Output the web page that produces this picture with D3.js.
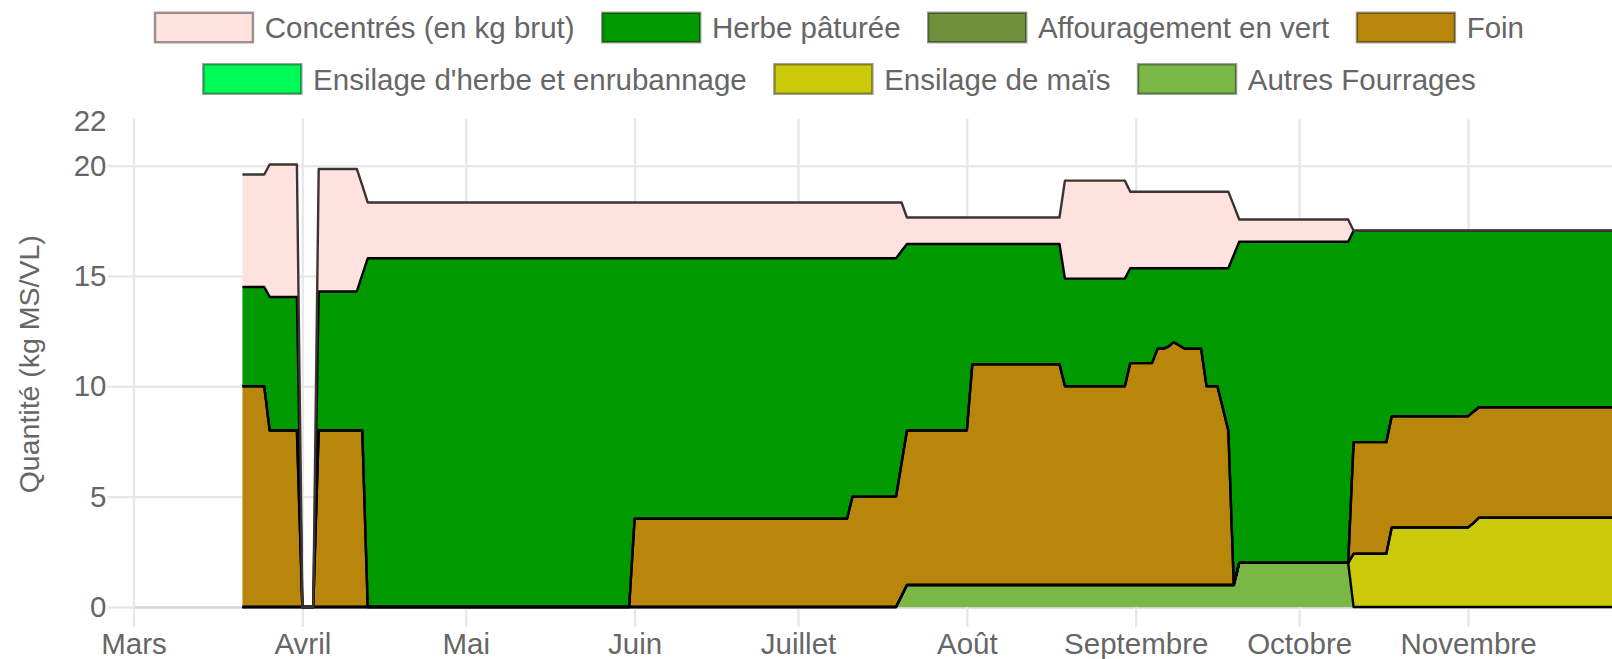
<!DOCTYPE html>
<html>
<head>
<meta charset="utf-8">
<script src="https://cdn.jsdelivr.net/npm/d3@7/dist/d3.min.js"></script>
<style>
    body { margin: 0; background: #fff; }
    svg { display: block; font-family: 'Liberation Sans', Arial, sans-serif; }
</style>
</head>
<body>
<svg id="chart" width="1612" height="659"></svg>
<script>

// DATA

// Days where the ration changes (each change is held from the previous day)
var dates = [
    '2021-03-21', '2021-03-25', '2021-03-26', '2021-03-31', '2021-04-01', '2021-04-03',
    '2021-04-04', '2021-04-11', '2021-04-12', '2021-04-13', '2021-05-31', '2021-06-01',
    '2021-07-10', '2021-07-11', '2021-07-19', '2021-07-20', '2021-07-21', '2021-08-01',
    '2021-08-02', '2021-08-18', '2021-08-19', '2021-08-30', '2021-08-31', '2021-09-04',
    '2021-09-05', '2021-09-06', '2021-09-07', '2021-09-08', '2021-09-09', '2021-09-10',
    '2021-09-13', '2021-09-14', '2021-09-16', '2021-09-18', '2021-09-19', '2021-09-20',
    '2021-10-10', '2021-10-11', '2021-10-17', '2021-10-18', '2021-11-01', '2021-11-02',
    '2021-11-03', '2021-11-30'
];

var concentres = [
    5.1, 5.1, 6.0, 6.0, 0, 0,
    5.55, 5.55, 4.05, 2.53, 2.53, 2.53,
    2.53, 2.53, 2.53, 2.2, 1.2, 1.2,
    1.2, 1.2, 4.44, 4.44, 3.47, 3.47,
    3.47, 3.47, 3.47, 3.47, 3.47, 3.47,
    3.47, 3.47, 3.47, 3.47, 2.25, 1.01,
    1.01, 0, 0, 0, 0, 0,
    0, 0
];

var herbe = [
    4.5, 4.5, 6.05, 6.05, 0, 0,
    6.3, 6.3, 7.05, 15.8, 15.8, 11.8,
    11.8, 10.8, 10.8, 9.63, 8.45, 8.45,
    5.45, 5.45, 4.88, 4.88, 4.3, 4.3,
    3.65, 3.65, 3.55, 3.35, 3.5, 3.65,
    3.65, 5.35, 5.35, 7.35, 14.95, 14.55,
    14.55, 9.58, 9.58, 8.41, 8.41, 8.2,
    8.0, 8.0
];

var affouragement = dates.map( function() { return 0; } );

var foin = [
    10, 10, 8, 8, 0, 0,
    8, 8, 8, 0, 0, 4,
    4, 5, 5, 6.0, 7, 7,
    10, 10, 9, 9, 10.05, 10.05,
    10.7, 10.7, 10.8, 11.0, 10.85, 10.7,
    10.7, 9, 9, 7, 0, 0,
    0, 5.06, 5.06, 5.04, 5.04, 5.05,
    5.0, 5.0
];

var ensilageHerbe = dates.map( function() { return 0; } );

var ensilageMais = [
    0, 0, 0, 0, 0, 0,
    0, 0, 0, 0, 0, 0,
    0, 0, 0, 0, 0, 0,
    0, 0, 0, 0, 0, 0,
    0, 0, 0, 0, 0, 0,
    0, 0, 0, 0, 0, 0,
    0, 2.41, 2.41, 3.6, 3.6, 3.8,
    4.05, 4.05
];

var autres = [
    0, 0, 0, 0, 0, 0,
    0, 0, 0, 0, 0, 0,
    0, 0, 0, 0.5, 1, 1,
    1, 1, 1, 1, 1, 1,
    1, 1, 1, 1, 1, 1,
    1, 1, 1, 1, 1, 2,
    2, 0, 0, 0, 0, 0,
    0, 0
];

// Legend order (the stack is drawn in the reverse order, bottom to top)
var seriesKeys   = [ 'concentres', 'herbe', 'affouragement', 'foin', 'ensilageHerbe', 'ensilageMais', 'autres' ];
var seriesLabels = [ 'Concentrés (en kg brut)', 'Herbe pâturée', 'Affouragement en vert', 'Foin',
                     'Ensilage d\'herbe et enrubannage', 'Ensilage de maïs', 'Autres Fourrages' ];

var monthTicks  = [ '2021-03-01', '2021-04-01', '2021-05-01', '2021-06-01', '2021-07-01',
                    '2021-08-01', '2021-09-01', '2021-10-01', '2021-11-01' ];
var monthLabels = [ 'Mars', 'Avril', 'Mai', 'Juin', 'Juillet', 'Août', 'Septembre', 'Octobre', 'Novembre' ];

var yTicks = [ 0, 5, 10, 15, 20, 22 ];
var yTitle = 'Quantité (kg MS/VL)';


// STYLE

var colors = {
    concentres:    '#ffe1de',
    herbe:         '#009900',
    affouragement: '#6f913a',
    foin:          '#b8860b',
    ensilageHerbe: '#00fa55',
    ensilageMais:  '#cbca0a',
    autres:        '#79b844'
};

var fontSize   = 29.5;
var textColor  = '#666';
var gridColor  = '#e8e8e8';

var plot = {
    left: 133.5,
    right: 1612,
    top: 121.5,
    bottom: 607
};


// HELPERS

var parseDate = d3.utcParse( '%Y-%m-%d' );

function buildRows() {
    var series = {
        concentres: concentres,
        herbe: herbe,
        affouragement: affouragement,
        foin: foin,
        ensilageHerbe: ensilageHerbe,
        ensilageMais: ensilageMais,
        autres: autres
    };
    return dates.map( function( d, i ) {
        var row = { date: parseDate( d ) };
        seriesKeys.forEach( function( k ) {
            row[k] = series[k][i];
        } );
        return row;
    } );
}


// MAIN

var svg = d3.select( '#chart' );

var x = d3.scaleUtc()
            .domain( [ parseDate( '2021-03-01' ), parseDate( '2021-11-01' ) ] )
            .range( [ plot.left, 1468 ] );

var y = d3.scaleLinear()
            .domain( [ 0, 22 ] )
            .range( [ plot.bottom, plot.top ] );

svg.append( 'defs' ).append( 'clipPath' )
    .attr( 'id', 'plot-clip' )
    .append( 'rect' )
        .attr( 'x', plot.left )
        .attr( 'y', plot.top - 5 )
        .attr( 'width', plot.right - plot.left )
        .attr( 'height', plot.bottom - plot.top + 10 );

// Grid + axes

var yGrid = svg.append( 'g' )
                .attr( 'transform', 'translate(' + plot.left + ',0)' )
                .call( d3.axisLeft( y ).tickValues( yTicks ).tickSize( -( plot.right - plot.left ) ).tickFormat( '' ) );

var yAxis = svg.append( 'g' )
                .attr( 'transform', 'translate(' + plot.left + ',0)' )
                .call( d3.axisLeft( y ).tickValues( yTicks ).tickSize( 26 ).tickPadding( 1 ) );

var xTickDates = monthTicks.map( parseDate );

var xGrid = svg.append( 'g' )
                .attr( 'transform', 'translate(0,' + plot.bottom + ')' )
                .call( d3.axisBottom( x ).tickValues( xTickDates ).tickSize( -( plot.bottom - plot.top + 3 ) ).tickFormat( '' ) );

var xAxis = svg.append( 'g' )
                .attr( 'transform', 'translate(0,' + plot.bottom + ')' )
                .call( d3.axisBottom( x ).tickValues( xTickDates ).tickSize( 20 ).tickPadding( 6 )
                        .tickFormat( function( d, i ) { return monthLabels[i]; } ) );

[ yGrid, yAxis, xGrid, xAxis ].forEach( function( g ) {
    g.select( '.domain' ).remove();
    g.selectAll( 'line' )
        .attr( 'stroke', gridColor )
        .attr( 'stroke-width', 2.4 );
    g.selectAll( 'text' )
        .attr( 'fill', textColor )
        .style( 'font-size', fontSize + 'px' )
        .style( 'font-family', "'Liberation Sans', Arial, sans-serif" );
} );

// The top tick only carries its label
[ yGrid, yAxis ].forEach( function( g ) {
    g.selectAll( '.tick' ).filter( function( d ) { return d === 22; } )
        .select( 'line' ).remove();
} );

yGrid.selectAll( '.tick' ).filter( function( d ) { return d === 0; } )
    .select( 'line' ).attr( 'stroke', '#d4d4d4' );

svg.append( 'text' )
    .attr( 'transform', 'translate(29,' + ( ( plot.top + plot.bottom ) / 2 ) + ') rotate(-90)' )
    .attr( 'text-anchor', 'middle' )
    .attr( 'dominant-baseline', 'central' )
    .attr( 'fill', textColor )
    .style( 'font-size', '28.5px' )
    .text( yTitle );

// Stacked areas

var rows = buildRows();
var stackKeys = seriesKeys.slice().reverse();

var stack = d3.stack()
                .keys( stackKeys )
                .order( d3.stackOrderNone )
                .offset( d3.stackOffsetNone );

var layers = stack( rows );

var area = d3.area()
                .x( function( d ) { return x( d.data.date ); } )
                .y0( function( d ) { return y( d[0] ); } )
                .y1( function( d ) { return y( d[1] ); } );

var topLine = d3.line()
                .x( function( d ) { return x( d.data.date ); } )
                .y( function( d ) { return y( d[1] ); } );

var plotG = svg.append( 'g' ).attr( 'clip-path', 'url(#plot-clip)' );

plotG.selectAll( 'path.area' )
    .data( layers )
    .enter().append( 'path' )
        .attr( 'class', 'area' )
        .attr( 'fill', function( d ) { return colors[d.key]; } )
        .attr( 'd', area );

plotG.selectAll( 'path.top' )
    .data( layers )
    .enter().append( 'path' )
        .attr( 'class', 'top' )
        .attr( 'fill', 'none' )
        .attr( 'stroke', function( d ) { return d.key === 'concentres' ? '#3c3434' : '#000'; } )
        .attr( 'stroke-width', 2.4 )
        .attr( 'stroke-linejoin', 'round' )
        .attr( 'd', topLine );

// Legend

var legend = {
    boxW: 98,
    boxH: 29.5,
    pad: 24.6,
    center: 841,
    maxWidth: 1660,
    rowY: [ 27.5, 79 ]
};

var legendG = svg.append( 'g' );

var items = seriesKeys.map( function( k, i ) {
    var t = legendG.append( 'text' )
                .attr( 'fill', textColor )
                .attr( 'dominant-baseline', 'central' )
                .style( 'font-size', fontSize + 'px' )
                .text( seriesLabels[i] );
    return { key: k, text: t, w: legend.boxW + fontSize / 2 + t.node().getComputedTextLength() };
} );

// Wrap into rows like the original legend
var legendRows = [ [] ];
var rowW = 0;
items.forEach( function( it ) {
    var needed = ( legendRows[legendRows.length - 1].length ? legend.pad : 0 ) + it.w;
    if ( rowW + needed > legend.maxWidth ) {
        legendRows.push( [] );
        rowW = 0;
        needed = it.w;
    }
    legendRows[legendRows.length - 1].push( it );
    rowW += needed;
} );

legendRows.forEach( function( row, r ) {
    var total = d3.sum( row, function( it ) { return it.w; } ) + legend.pad * ( row.length - 1 );
    var cx = legend.center - total / 2;
    var cy = legend.rowY[r];
    row.forEach( function( it ) {
        legendG.append( 'rect' )
            .attr( 'x', cx )
            .attr( 'y', cy - legend.boxH / 2 )
            .attr( 'width', legend.boxW )
            .attr( 'height', legend.boxH )
            .attr( 'fill', colors[it.key] )
            .attr( 'stroke', 'rgba(0,0,0,0.4)' )
            .attr( 'stroke-width', 2.4 );
        it.text
            .attr( 'x', cx + legend.boxW + fontSize / 2 - 3 )
            .attr( 'y', cy );
        cx += it.w + legend.pad;
    } );
} );

</script>
</body>
</html>
